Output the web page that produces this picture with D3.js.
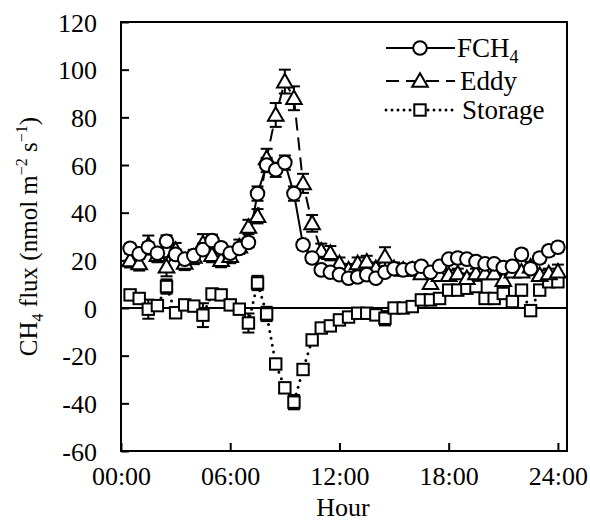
<!DOCTYPE html>
<html>
<head>
<meta charset="utf-8">
<script src="https://cdn.jsdelivr.net/npm/d3@7"></script>
<style>
  html, body { margin: 0; padding: 0; background: #fff; }
  svg text { font-family: "Times New Roman", "Liberation Serif", Tinos, "Nimbus Roman", Times, serif; fill: #000; }
</style>
</head>
<body>
<svg id="chart" width="590" height="524"></svg>
<script>
// ---------- data ----------
const hours = [0.5,1,1.5,2,2.5,3,3.5,4,4.5,5,5.5,6,6.5,7,7.5,8,8.5,9,9.5,10,10.5,11,11.5,12,
               12.5,13,13.5,14,14.5,15,15.5,16,16.5,17,17.5,18,18.5,19,19.5,20,20.5,21,21.5,22,22.5,23,23.5,24];
const fch4 = [25,22.7,25.5,23,28,22.5,20.5,22,24.5,28.3,25.3,23,25,27.5,48,60,58,61,48,26.5,21,16,15,14,
              12.5,13,14,12.5,15,16.5,16,16.5,17.5,15,17.5,20.5,21,20.5,19.5,18.5,18.5,17,17.5,22.5,16.5,21,24,25.5];
const fch4Err = [2,2,2,2,2.5,2,2,2,2.5,2.5,2,2,2,2,3,3,3,3,3,2,2,1.5,1.5,1.5,
                 1.5,1.5,1.5,1.5,1.5,1.5,1.5,1.5,1.5,1.5,1.5,1.5,1.5,1.5,1.5,1.5,1.5,1.5,1.5,2,1.5,2,2,2];
const eddy = [20,18.7,26.4,22.2,17.3,24.3,18.9,21.4,27,22.2,20.1,21.8,25.7,34,38.5,62.8,81,95,88,52.3,35.5,24,23,18.7,
              16,18.7,19.4,16.6,21.5,16.6,16,16,14.5,10.4,13.8,13.8,14.5,12.5,14.5,14.5,14.5,11.7,15.2,15.2,17.3,13.8,14.5,15.2];
const eddyErr = [3,3,4,3,4,3,3,3,4,3,3,3,3,3,3,4,5,5,5,4,3.5,3,3,2.5,
                 2.5,2.5,2.5,2.5,4,2.5,2,2,2,2,2,2,2,2,2,2,2,2,2,2,2,2,2,3];
const storage = [5.5,4,-0.5,1,9,-2,1.3,0.8,-3,5.9,5.5,1.3,-0.5,-6.3,10.5,-2.5,-23.5,-33.5,-39.5,-25.8,-13.4,-8.4,-7.5,-5,
                 -3.8,-2.2,-2.2,-2.9,-4.3,0,0,0.6,3.4,3.4,4,7.5,7.5,8.3,9,4,4,6.1,2.7,7.5,-1.1,7.5,11,11];
const storageErr = [2,2,4,2,3,2,2,2,5,2,2,2,2,4,3,3,2,2,3,2,2,1.5,1.5,1.5,
                    1.5,1.5,1.5,1.5,3,1.5,1.5,1.5,1.5,1.5,1.5,1.5,1.5,1.5,1.5,1.5,1.5,1.5,1.5,1.5,2,2,2,2];
const xTicks = [0, 6, 12, 18, 24];
const xTickLabels = ["00:00", "06:00", "12:00", "18:00", "24:00"];
const yTicks = [-60, -40, -20, 0, 20, 40, 60, 80, 100, 120];

// ---------- layout ----------
const svg = d3.select("#chart");
const L = 121, R = 567, T = 22, B = 451;
const x = d3.scaleLinear().domain([0, 24.5]).range([L, R]);
const y = d3.scaleLinear().domain([-60, 120]).range([B, T]);

// zero line
svg.append("line").attr("x1", L).attr("x2", R).attr("y1", y(0)).attr("y2", y(0))
  .attr("stroke", "#000").attr("stroke-width", 2);

// axes (inward ticks)
const xAxis = d3.axisBottom(x).tickValues(xTicks).tickFormat((d, i) => xTickLabels[i]).tickSizeInner(-8).tickSizeOuter(0).tickPadding(16);
const yAxis = d3.axisLeft(y).tickValues(yTicks).tickFormat(d => String(d)).tickSizeInner(-8).tickSizeOuter(0).tickPadding(24);
const gx = svg.append("g").attr("transform", `translate(0,${B})`).call(xAxis);
const gy = svg.append("g").attr("transform", `translate(${L},0)`).call(yAxis);
[gx, gy].forEach(g => {
  g.select(".domain").remove();
  g.selectAll(".tick line").attr("stroke", "#000").attr("stroke-width", 2);
  g.selectAll(".tick text").style("font-size", "26px").attr("fill", "#000")
    .style("font-family", '"Times New Roman", "Liberation Serif", serif');
});
gy.selectAll(".tick text").attr("dy", "0.35em");

// frame
svg.append("rect").attr("x", L).attr("y", T).attr("width", R - L).attr("height", B - T)
  .attr("fill", "none").attr("stroke", "#000").attr("stroke-width", 2);

// axis titles
svg.append("text").attr("x", 343).attr("y", 516).attr("text-anchor", "middle")
  .style("font-size", "26px").text("Hour");
const yt = svg.append("text").attr("transform", `translate(37,${(T + B) / 2}) rotate(-90)`)
  .attr("text-anchor", "middle").style("font-size", "25px");
yt.append("tspan").text("CH");
yt.append("tspan").attr("dy", 6).style("font-size", "16px").text("4");
yt.append("tspan").attr("dy", -6).text(" flux (nmol m");
yt.append("tspan").attr("dy", -10).style("font-size", "16px").text("\u22122");
yt.append("tspan").attr("dy", 10).text(" s");
yt.append("tspan").attr("dy", -10).style("font-size", "16px").text("\u22121");
yt.append("tspan").attr("dy", 10).text(")");

// ---------- series ----------
const series = [
  { name: "Storage", vals: storage, err: storageErr, shape: "square", dash: "0,7", width: 3, cap: "round" },
  { name: "Eddy", vals: eddy, err: eddyErr, shape: "triangle", dash: "13,7", width: 2, cap: "butt" },
  { name: "FCH4", vals: fch4, err: fch4Err, shape: "circle", dash: null, width: 2, cap: "butt" }
];

function marker(g, shape, cx, cy) {
  if (shape === "circle") {
    g.append("circle").attr("cx", cx).attr("cy", cy).attr("r", 6.8);
  } else if (shape === "triangle") {
    const s = 7.8;
    g.append("path").attr("d", `M${cx},${cy - s}L${cx + s},${cy + s * 0.75}L${cx - s},${cy + s * 0.75}Z`);
  } else {
    const s = 5.7;
    g.append("rect").attr("x", cx - s).attr("y", cy - s).attr("width", 2 * s).attr("height", 2 * s);
  }
}

const line = d3.line().x((d, i) => x(hours[i])).y(d => y(d));

series.forEach(s => {
  svg.append("path").datum(s.vals).attr("d", line).attr("fill", "none").attr("stroke", "#000")
    .attr("stroke-width", s.width).attr("stroke-dasharray", s.dash).attr("stroke-linecap", s.cap);
});

series.forEach(s => {
  const g = svg.append("g").attr("stroke", "#000").attr("stroke-width", 2);
  s.vals.forEach((v, i) => {
    const cx = x(hours[i]);
    const hi = y(v + s.err[i]), lo = y(v - s.err[i]);
    g.append("line").attr("x1", cx).attr("x2", cx).attr("y1", hi).attr("y2", lo);
    g.append("line").attr("x1", cx - 6).attr("x2", cx + 6).attr("y1", hi).attr("y2", hi);
    g.append("line").attr("x1", cx - 6).attr("x2", cx + 6).attr("y1", lo).attr("y2", lo);
  });
});

series.forEach(s => {
  const g = svg.append("g").attr("stroke", "#000").attr("stroke-width", 2).attr("fill", "#fff");
  s.vals.forEach((v, i) => marker(g, s.shape, x(hours[i]), y(v)));
});

// ---------- legend ----------
const legendRows = [
  { label: "FCH", sub: "4", shape: "circle", dash: null, width: 2, cap: "butt", yy: 48, tx: 457 },
  { label: "Eddy", sub: null, shape: "triangle", dash: "13,7", width: 2, cap: "butt", yy: 81, tx: 460 },
  { label: "Storage", sub: null, shape: "square", dash: "0,6", width: 3, cap: "round", yy: 110, tx: 462 }
];
legendRows.forEach(r => {
  svg.append("line").attr("x1", 386).attr("x2", 455).attr("y1", r.yy).attr("y2", r.yy)
    .attr("stroke", "#000").attr("stroke-width", r.width).attr("stroke-dasharray", r.dash)
    .attr("stroke-linecap", r.cap);
  const g = svg.append("g").attr("stroke", "#000").attr("stroke-width", 2).attr("fill", "#fff");
  marker(g, r.shape, 420, r.yy);
  const t = svg.append("text").attr("x", r.tx).attr("y", r.yy + 9).style("font-size", "27px");
  t.append("tspan").text(r.label);
  if (r.sub) t.append("tspan").attr("dy", 6).style("font-size", "18px").text(r.sub);
});
</script>
</body>
</html>
